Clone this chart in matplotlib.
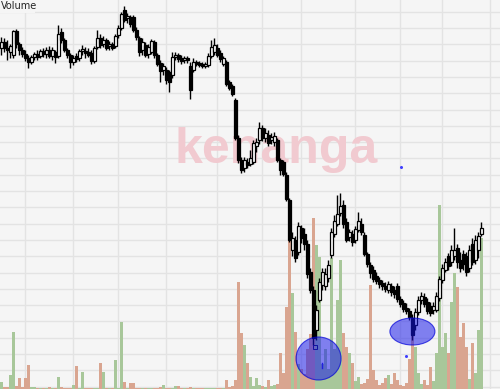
import numpy as np
import matplotlib.pyplot as plt
from matplotlib.patches import Ellipse, Rectangle

# daily prices (arbitrary price units), one entry per session
opens = [352, 358, 352, 348, 345, 369, 356, 350, 346, 342, 338, 343, 346, 344, 349, 346, 350, 344, 348, 344,
         368, 360, 350, 345, 338, 344, 342, 349, 349, 348, 347, 339, 353, 362, 356, 360, 354, 356, 354, 365,
         372, 390, 382, 383, 383, 370, 362, 350, 355, 346, 348, 358, 345, 337, 330, 330, 328, 325, 343, 345,
         342, 340, 342, 334, 330, 338, 337, 336, 334, 335, 344, 348, 352, 347, 336, 338, 318, 314, 300, 262,
         240, 232, 238, 236, 238, 254, 260, 272, 262, 265, 260, 258, 260, 240, 238, 225, 200, 150, 160, 148,
         172, 166, 156, 128, 110, 70, 100, 115, 114, 122, 145, 166, 176, 187, 195, 178, 163, 166, 160, 170,
         176, 165, 146, 135, 130, 124, 120, 117, 114, 110, 114, 110, 114, 101, 97, 92, 89, 82, 75, 88,
         100, 103, 98, 94, 90, 90, 102, 120, 130, 144, 138, 144, 152, 140, 146, 144, 132, 156, 140, 150,
         166]
highs = [363, 362, 360, 356, 370, 371, 358, 353, 350, 345, 345, 348, 350, 351, 352, 353, 354, 353, 350, 375,
         372, 362, 352, 347, 345, 347, 351, 355, 353, 352, 350, 354, 370, 366, 364, 362, 359, 358, 366, 375,
         388, 394, 387, 385, 385, 373, 364, 362, 358, 356, 361, 360, 347, 340, 337, 333, 330, 348, 348, 347,
         345, 344, 344, 338, 342, 340, 339, 338, 338, 347, 360, 362, 356, 350, 344, 340, 320, 316, 302, 265,
         243, 243, 242, 250, 260, 262, 278, 275, 272, 270, 267, 268, 262, 242, 240, 228, 202, 168, 164, 178,
         175, 172, 160, 132, 114, 95, 122, 132, 132, 140, 172, 185, 205, 207, 200, 182, 171, 170, 174, 188,
         182, 168, 148, 138, 134, 128, 123, 120, 118, 119, 117, 114, 117, 104, 100, 97, 92, 86, 92, 104,
         108, 107, 102, 98, 98, 108, 124, 136, 142, 147, 155, 172, 156, 148, 150, 148, 155, 162, 165, 168,
         178]
lows = [345, 348, 340, 342, 342, 352, 345, 343, 339, 332, 336, 340, 340, 342, 343, 342, 342, 340, 337, 342,
        357, 348, 342, 332, 335, 338, 339, 345, 342, 343, 336, 337, 351, 352, 353, 350, 350, 350, 352, 362,
        370, 378, 377, 373, 368, 360, 344, 345, 343, 342, 346, 342, 334, 318, 325, 316, 308, 322, 340, 338,
        336, 337, 337, 301, 328, 334, 333, 332, 332, 333, 342, 345, 343, 338, 334, 314, 310, 304, 260, 237,
        227, 228, 232, 234, 236, 248, 256, 259, 258, 254, 256, 254, 238, 225, 224, 199, 158, 144, 138, 145,
        157, 150, 122, 107, 55, 60, 98, 110, 110, 118, 142, 163, 174, 184, 172, 158, 159, 154, 157, 168,
        165, 144, 133, 122, 118, 116, 112, 110, 108, 107, 104, 102, 98, 93, 88, 86, 80, 60, 70, 85,
        96, 93, 86, 84, 86, 88, 99, 117, 128, 130, 134, 140, 132, 128, 130, 124, 128, 135, 136, 142,
        164]
closes = [358, 352, 350, 354, 369, 356, 350, 346, 342, 338, 343, 346, 343, 349, 346, 350, 344, 350, 343, 366,
          360, 350, 345, 338, 342, 341, 349, 351, 347, 345, 339, 352, 362, 355, 360, 352, 356, 352, 364, 372,
          386, 380, 384, 376, 370, 363, 348, 358, 345, 353, 359, 345, 336, 329, 334, 320, 318, 343, 345, 341,
          339, 342, 340, 310, 338, 336, 335, 334, 336, 344, 353, 355, 345, 341, 342, 316, 312, 306, 262, 240,
          230, 240, 235, 242, 257, 258, 272, 262, 267, 257, 263, 264, 240, 230, 226, 201, 160, 162, 142, 174,
          162, 156, 126, 110, 62, 90, 118, 128, 126, 135, 168, 179, 186, 194, 176, 160, 168, 158, 171, 179,
          168, 146, 136, 127, 121, 119, 116, 114, 111, 116, 108, 106, 101, 96, 91, 89, 83, 65, 88, 100,
          104, 96, 89, 87, 94, 104, 121, 132, 138, 134, 150, 150, 138, 132, 136, 128, 150, 138, 160, 164,
          172]
volumes = [7, 2, 2, 14, 57, 3, 11, 2, 11, 24, 2, 2, 1, 1, 1, 1, 2, 1, 1, 12,
           2, 1, 1, 1, 4, 23, 1, 17, 1, 1, 1, 1, 1, 26, 17, 1, 1, 1, 29, 1,
           67, 7, 1, 6, 6, 1, 1, 1, 1, 1, 1, 1, 1, 2, 4, 1, 1, 1, 3, 3,
           1, 1, 1, 2, 1, 1, 1, 1, 1, 1, 1, 1, 1, 1, 1, 9, 2, 3, 9, 107,
           56, 44, 26, 12, 3, 11, 4, 3, 2, 9, 3, 4, 5, 36, 16, 82, 161, 96, 57, 25,
           20, 15, 40, 55, 171, 144, 132, 25, 40, 20, 131, 40, 89, 129, 56, 42, 36, 26, 8, 12,
           5, 6, 10, 104, 19, 9, 4, 6, 11, 14, 5, 16, 9, 4, 3, 6, 30, 54, 42, 16,
           5, 9, 4, 22, 8, 36, 184, 42, 56, 36, 87, 116, 102, 52, 66, 42, 10, 46, 16, 59,
           151]
month_starts = [8, 24, 39, 55, 72, 87, 100, 118, 133, 147, 163]

o = np.array(opens)
h = np.array(highs)
l = np.array(lows)
c = np.array(closes)
x = np.arange(len(o))
up = c >= o

bg = '#f5f5f5'
fig = plt.figure(figsize=(5, 3.89), dpi=100)
fig.patch.set_facecolor(bg)

# volume underneath, price on top
axv = fig.add_axes([0, 0, 1, 1])
axv.set_facecolor(bg)
ax = axv.twinx()
ax.patch.set_visible(False)
for a in (axv, ax):
    for s in a.spines.values():
        s.set_visible(False)
    a.tick_params(left=False, right=False, bottom=False, top=False,
                  labelleft=False, labelright=False, labelbottom=False)
axv.set_xlim(-0.5, 166.2)
axv.set_ylim(0, 389)
axv.set_xticks(month_starts)
axv.set_yticks(np.arange(377.3, 0, -16.3))
axv.grid(True, color='#e3e3e3', lw=1)
axv.set_axisbelow(True)
axv.bar(x, volumes, width=0.8, color=np.where(up, '#a8c79a', '#d9a590'), linewidth=0)

ax.set_ylim(11, 400)
ax.text(276 / 500, 1 - 163 / 389, 'kenanga', transform=ax.transAxes, ha='center', va='baseline',
        fontsize=36, fontweight='bold', family='Liberation Sans', color='#f1cad0', zorder=0)

# candles
ax.vlines(x, l, h, color='black', lw=1.0, zorder=2)
body = np.maximum(np.abs(c - o), 1.0)
ax.bar(x, body, bottom=np.minimum(o, c), width=0.75, color=np.where(up, 'white', 'black'),
       edgecolor='black', linewidth=0.9, zorder=3)

# highlighted lows
for cx, cy, w, hh in [(105.7, 41.5, 15, 43), (137.0, 68.5, 15, 27)]:
    ax.add_patch(Ellipse((cx, cy), w, hh, facecolor=(0.08, 0.08, 0.92, 0.52),
                         edgecolor=(0.0, 0.0, 0.85, 0.7), lw=0.8, zorder=5))
ax.plot([104.5], [53], marker='s', ms=2.5, mfc='none', mec='#1010a0', mew=0.7, zorder=6)
ax.plot([106.8, 106.8], [32, 37], color='#2020e0', lw=1, zorder=6)
ax.plot([133.2, 134.8], [233, 44], ls='none', marker='o', ms=1.2, color='#4040ff', zorder=6)

fig.patches.append(Rectangle((0, 1 - 13 / 389), 35 / 500, 13 / 389, transform=fig.transFigure,
                             facecolor=bg, edgecolor='none', zorder=1))
fig.text(1 / 500, 1 - 6 / 389, 'Volume', fontsize=7, color='#222222', ha='left', va='center', zorder=3)

fig.savefig('out.png', dpi=100, facecolor=bg)
